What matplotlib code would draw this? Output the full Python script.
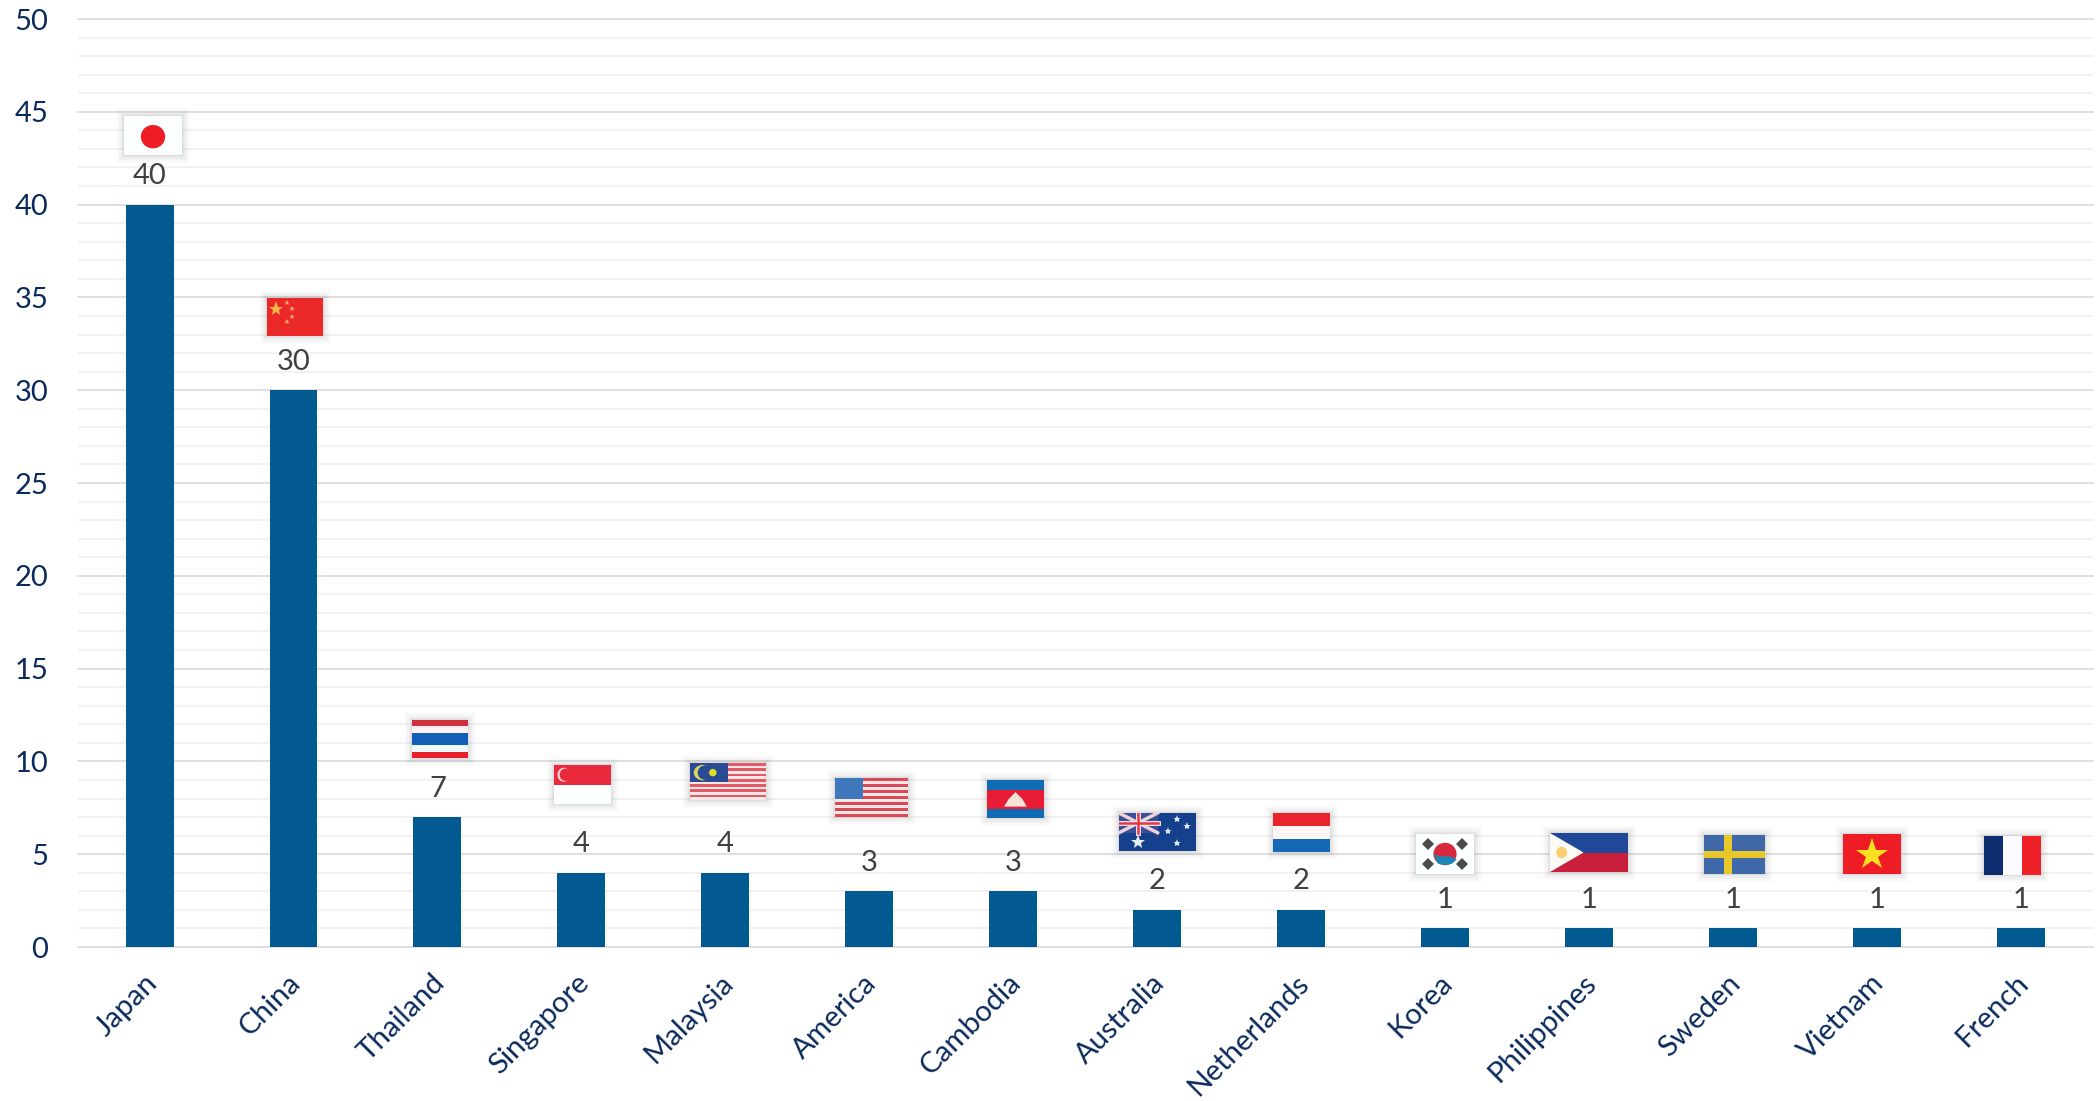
import matplotlib
matplotlib.use("Agg")
from matplotlib import pyplot as plt
from matplotlib.patches import Rectangle, Circle, Ellipse, Polygon
from matplotlib.ticker import MultipleLocator
from matplotlib.transforms import ScaledTranslation

plt.rcParams['font.family'] = ['Lato', 'DejaVu Sans']

# dados do grafico
countries = ["Japan", "China", "Thailand", "Singapore", "Malaysia", "America", "Cambodia",
             "Australia", "Netherlands", "Korea", "Philippines", "Sweden", "Vietnam", "French"]
values = [40, 30, 7, 4, 4, 3, 3, 2, 2, 1, 1, 1, 1, 1]
y_max = 50

# caixa de cada bandeira em pixels da imagem (esq, topo, dir, baixo)
flag_box = {
    "Japan": (124, 116, 182, 155), "China": (267, 298, 323, 336),
    "Thailand": (412, 720, 468, 758), "Singapore": (554, 765, 611, 804),
    "Malaysia": (690, 763, 766, 800), "America": (835, 778, 908, 817),
    "Cambodia": (987, 780, 1044, 818), "Australia": (1119, 813, 1196, 851),
    "Netherlands": (1273, 813, 1330, 852), "Korea": (1416, 834, 1474, 874),
    "Philippines": (1550, 833, 1628, 872), "Sweden": (1704, 835, 1765, 874),
    "Vietnam": (1843, 834, 1901, 874), "French": (1984, 836, 2041, 875),
}

W, H = 2100, 1101
NAVY = "#0b2a5c"
BAR = "#025a90"


#faixas horizontais, de cima para baixo
def hstripes(ax, cores, pesos=None):
    pesos = pesos or [1] * len(cores)
    y = 1.0
    for c, p in zip(cores, pesos):
        h = p / sum(pesos)
        ax.add_patch(Rectangle((0, y - h), 1, h, color=c, lw=0))
        y -= h


#faixas verticais, da esquerda para a direita
def vstripes(ax, cores):
    for i, c in enumerate(cores):
        ax.add_patch(Rectangle((i / len(cores), 0), 1 / len(cores), 1, color=c, lw=0))


def flag_japan(ax):
    ax.set_facecolor("#fbffff")
    ax.add_patch(Ellipse((0.5, 0.47), 0.42, 0.6, color="#ee1c25", lw=0))


def flag_china(ax):
    ax.set_facecolor("#ea2828")
    ax.plot([0.16], [0.72], marker="*", ms=11, color="#f7b24a", mew=0)
    for x, y in [(0.36, 0.88), (0.44, 0.72), (0.44, 0.5), (0.36, 0.36)]:
        ax.plot([x], [y], marker="*", ms=4, color="#f7a860", mew=0)


def flag_thailand(ax):
    hstripes(ax, ["#d0303c", "#fdf0f4", "#1160b8", "#f0fbff", "#e8202c"], [1, 1, 2, 1, 1])


def flag_singapore(ax):
    hstripes(ax, ["#ea2a3c", "#fbffff"])
    ax.add_patch(Ellipse((0.17, 0.75), 0.22, 0.36, color="#fbd8d8", lw=0))
    ax.add_patch(Ellipse((0.2, 0.75), 0.2, 0.32, color="#ea2a3c", lw=0))


def flag_malaysia(ax):
    hstripes(ax, ["#e05a68", "#fbe6e6"] * 7)
    ax.add_patch(Rectangle((0, 0.5), 0.5, 0.5, color="#2a4a94", lw=0))
    ax.add_patch(Ellipse((0.17, 0.74), 0.24, 0.42, color="#d8d860", lw=0))
    ax.add_patch(Ellipse((0.21, 0.74), 0.22, 0.4, color="#2a4a94", lw=0))
    ax.add_patch(Ellipse((0.3, 0.74), 0.1, 0.2, color="#d8e020", lw=0))


def flag_america(ax):
    hstripes(ax, ["#d84a58", "#fbe6e6"] * 6 + ["#d84a58"])
    ax.add_patch(Rectangle((0, 0.46), 0.38, 0.54, color="#3f78bc", lw=0))


def flag_cambodia(ax):
    hstripes(ax, ["#0f6cb4", "#e81c34", "#0f6cb4"], [1, 2, 1])
    ax.add_patch(Polygon([(0.3, 0.3), (0.7, 0.3), (0.62, 0.5), (0.5, 0.68), (0.38, 0.5)],
                         color="#f4e4d8", lw=0))


def flag_australia(ax):
    ax.set_facecolor("#14408c")
    ax.add_patch(Rectangle((0, 0.48), 0.5, 0.52, color="#3a4f98", lw=0))
    ax.plot([0, 0.5], [1, 0.48], color="#f0d0d8", lw=2.5)
    ax.plot([0, 0.5], [0.48, 1], color="#f0d0d8", lw=2.5)
    ax.plot([0.25, 0.25], [0.48, 1], color="#fbe8e8", lw=3.5)
    ax.plot([0, 0.5], [0.74, 0.74], color="#fbe8e8", lw=3.5)
    ax.plot([0.25, 0.25], [0.48, 1], color="#e03848", lw=1.8)
    ax.plot([0, 0.5], [0.74, 0.74], color="#e03848", lw=1.8)
    ax.plot([0.25], [0.25], marker="*", ms=10, color="#e8f0fa", mew=0)
    for x, y in [(0.75, 0.85), (0.63, 0.52), (0.88, 0.66), (0.75, 0.2)]:
        ax.plot([x], [y], marker="*", ms=6, color="#d8e6f6", mew=0)


def flag_netherlands(ax):
    hstripes(ax, ["#e8242c", "#fdf6f6", "#1468b8"])


def flag_korea(ax):
    ax.set_facecolor("#fbffff")
    ax.add_patch(Ellipse((0.5, 0.5), 0.4, 0.56, color="#d8283c", lw=0))
    ax.add_patch(Polygon([(0.3, 0.5), (0.4, 0.44), (0.6, 0.44), (0.7, 0.36), (0.62, 0.26),
                          (0.5, 0.22), (0.38, 0.26)], color="#1c86b4", lw=0))
    for x, y in [(0.2, 0.76), (0.8, 0.76), (0.2, 0.24), (0.8, 0.24)]:
        ax.plot([x], [y], marker="D", ms=6.5, color="#4a4a4a", mew=0)


def flag_philippines(ax):
    hstripes(ax, ["#1f4898", "#c8203c"])
    ax.add_patch(Polygon([(0, 0), (0, 1), (0.43, 0.5)], color="#fcfaf4", lw=0))
    ax.add_patch(Ellipse((0.15, 0.5), 0.14, 0.3, color="#f4d070", lw=0))


def flag_sweden(ax):
    ax.set_facecolor("#3e68a8")
    ax.add_patch(Rectangle((0.32, 0), 0.14, 1, color="#e8c828", lw=0))
    ax.add_patch(Rectangle((0, 0.41), 1, 0.17, color="#e8c828", lw=0))


def flag_vietnam(ax):
    ax.set_facecolor("#ee1c25")
    ax.plot([0.5], [0.47], marker="*", ms=24, color="#f8e020", mew=0)


def flag_france(ax):
    vstripes(ax, ["#0c2c70", "#fbfbff", "#ee2028"])


flag_draw = {
    "Japan": flag_japan, "China": flag_china, "Thailand": flag_thailand,
    "Singapore": flag_singapore, "Malaysia": flag_malaysia, "America": flag_america,
    "Cambodia": flag_cambodia, "Australia": flag_australia, "Netherlands": flag_netherlands,
    "Korea": flag_korea, "Philippines": flag_philippines, "Sweden": flag_sweden,
    "Vietnam": flag_vietnam, "French": flag_france,
}

fig = plt.figure(figsize=(W / 100, H / 100), dpi=100, facecolor="white")
L, R, T, B = 77.6, 2092.6, 19, 947
ax = fig.add_axes([L / W, 1 - B / H, (R - L) / W, (B - T) / H])

x = list(range(len(countries)))
ax.bar(x, values, width=0.333, color=BAR, zorder=3)
ax.set_xlim(-0.5, len(countries) - 0.5)
ax.set_ylim(0, y_max)

ax.yaxis.set_major_locator(MultipleLocator(5))
ax.yaxis.set_minor_locator(MultipleLocator(1))
ax.grid(True, axis="y", which="major", color="#d9d9d9", lw=1.2, zorder=1)
ax.grid(True, axis="y", which="minor", color="#f2f2f2", lw=1.4, zorder=0)
for g in ax.yaxis.get_gridlines() + ax.yaxis.get_minorticklines():
    g.set_clip_on(False)
ax.set_axisbelow(True)
for s in ax.spines.values():
    s.set_visible(False)

ax.tick_params(axis="y", which="both", length=0)
ax.tick_params(axis="y", which="major", labelsize=21, labelcolor=NAVY, pad=21)
ax.tick_params(axis="x", length=0, pad=23)
ax.set_xticks(x)
ax.set_xticklabels(countries, rotation=45, ha="right", va="center", rotation_mode="anchor",
                   fontsize=21.2, color=NAVY)
for lab in ax.get_xticklabels():
    lab.set_transform(lab.get_transform() + ScaledTranslation(2.5 / 72, 0, fig.dpi_scale_trans))

#rotulos de valor acima das barras
for i, v in zip(x, values):
    ax.annotate(str(v), (i, v), xytext=(0, 20.5), textcoords="offset points",
                ha="center", va="center", fontsize=21, color="#404040", zorder=5)

#bandeiras com sombra clara em volta
for nome in countries:
    x0, y0, x1, y1 = flag_box[nome]
    for d, a in [(8, 0.02), (6.5, 0.03), (5, 0.04), (3.5, 0.05), (2, 0.06), (1, 0.07)]:
        fig.add_artist(Rectangle(((x0 - d) / W, 1 - (y1 + d) / H), (x1 - x0 + 2 * d) / W,
                                 (y1 - y0 + 2 * d) / H, transform=fig.transFigure,
                                 color="#808080", alpha=a, lw=0, zorder=4))
    fax = fig.add_axes([x0 / W, 1 - y1 / H, (x1 - x0) / W, (y1 - y0) / H], zorder=6)
    fax.set_xlim(0, 1)
    fax.set_ylim(0, 1)
    fax.set_xticks([])
    fax.set_yticks([])
    for s in fax.spines.values():
        s.set_visible(False)
    flag_draw[nome](fax)

fig.savefig("out.png", dpi=100)
